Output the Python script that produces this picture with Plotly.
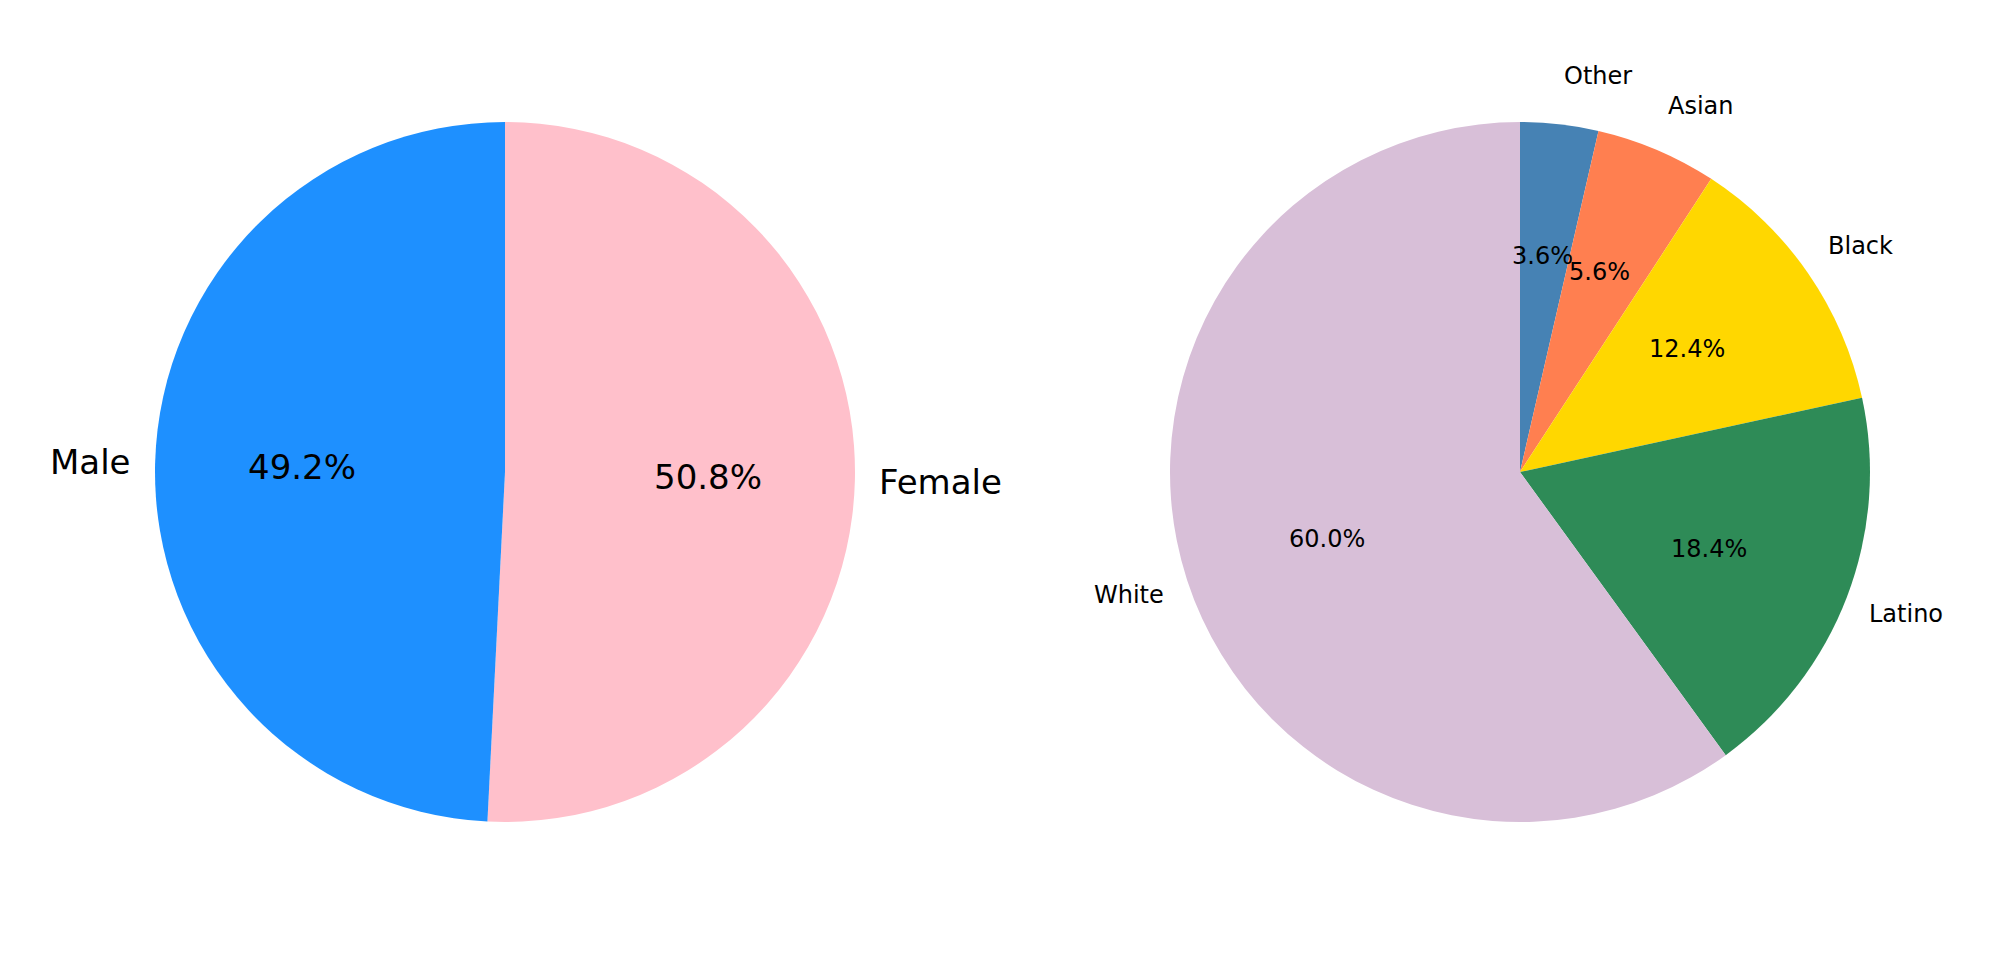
import numpy as np
import plotly.graph_objects as go

# data
gender_labels = ["Male", "Female"]
gender_values = [49.2, 50.8]
gender_colors = ["#1E90FF", "#FFC0CB"]

race_labels = ["Other", "Asian", "Black", "Latino", "White"]
race_values = [3.6, 5.6, 12.4, 18.4, 60.0]
race_colors = ["#4682B4", "#FF7F50", "#FFD700", "#2E8B57", "#D8BFD8"]

W, H = 2000, 955
R = 350            # pie radius in px
RX, RY = 338, 362  # radii used for placing the texts
PAGE_OFF = 8       # default body margin of the html page
FONT = "DejaVu Sans"


def pie_domain(cx, cy):
    return dict(
        x=[(cx - R) / W, (cx + R) / W],
        y=[(H - cy - R) / H, (H - cy + R) / H],
    )


def wedge_annotations(cx, cy, labels, values, clockwise, label_size, pct_size):
    """Outer labels at 1.1 r, percentages at 0.6 r (matplotlib style)."""
    total = float(sum(values))
    cum = np.cumsum([0] + list(values))[:-1]
    sign = -1 if clockwise else 1
    anns = []
    for lab, v, c in zip(labels, values, cum):
        theta = np.deg2rad(90 + sign * 360 * (c + v / 2) / total)
        cos, sin = np.cos(theta), np.sin(theta)
        lx = cx + 1.1 * RX * cos
        ly = cy - 1.1 * RY * sin
        anns.append(dict(
            x=lx / W, y=(H - ly) / H, xref="paper", yref="paper",
            text=lab, showarrow=False,
            xanchor="left" if cos > 0 else "right", yanchor="middle",
            font=dict(family=FONT, size=label_size, color="black"),
        ))
        px_ = cx + 0.6 * RX * cos
        py_ = cy - 0.6 * RY * sin
        anns.append(dict(
            x=px_ / W, y=(H - py_) / H, xref="paper", yref="paper",
            text=f"{100 * v / total:.1f}%", showarrow=False,
            xanchor="center", yanchor="middle",
            font=dict(family=FONT, size=pct_size, color="black"),
        ))
    return anns


left_c = (505 - PAGE_OFF, 472 - PAGE_OFF)
right_c = (1520 - PAGE_OFF, 472 - PAGE_OFF)

fig = go.Figure()

# gender pie runs counterclockwise from 12 o'clock; plotly's clockwise
# order with reversed lists gives the same layout
fig.add_trace(go.Pie(
    labels=gender_labels[::-1],
    values=gender_values[::-1],
    marker=dict(colors=gender_colors[::-1], line=dict(width=0)),
    sort=False,
    direction="clockwise",
    rotation=0,
    textinfo="none",
    hoverinfo="label+percent",
    domain=pie_domain(*left_c),
    showlegend=False,
))

fig.add_trace(go.Pie(
    labels=race_labels,
    values=race_values,
    marker=dict(colors=race_colors, line=dict(width=0)),
    sort=False,
    direction="clockwise",
    rotation=0,
    textinfo="none",
    hoverinfo="label+percent",
    domain=pie_domain(*right_c),
    showlegend=False,
))

annotations = wedge_annotations(*left_c, gender_labels, gender_values, False, 34, 34)
annotations += wedge_annotations(*right_c, race_labels, race_values, True, 24, 24)

fig.update_layout(
    width=W,
    height=H,
    margin=dict(l=0, r=0, t=0, b=0),
    paper_bgcolor="white",
    plot_bgcolor="white",
    annotations=annotations,
    font=dict(family=FONT),
)

fig.write_html("out.html")
